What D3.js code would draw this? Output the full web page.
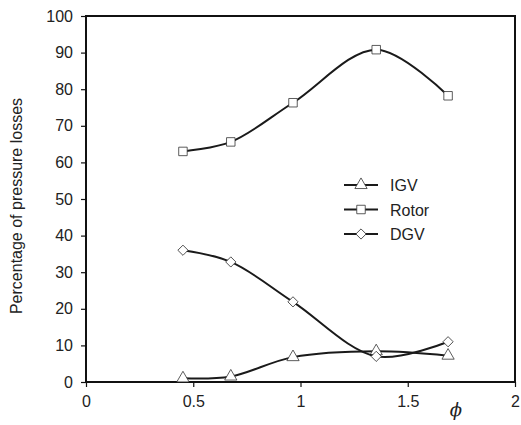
<!DOCTYPE html>
<html>
<head>
<meta charset="utf-8">
<script src="https://cdn.jsdelivr.net/npm/d3@7"></script>
<style>
  body { margin: 0; background: #fff; }
  text { font-family: "Liberation Sans", Arial, sans-serif; fill: #222; }
</style>
</head>
<body>
<div id="container"></div>
<script>
const width = 521;
const height = 425;
const margin = {top: 16, right: 6, bottom: 43, left: 86};

// DATA
const phi = [0.452, 0.675, 0.965, 1.353, 1.688];
const igv = [1.0, 1.5, 6.8, 8.4, 7.2];
const rotor = [63.0, 65.6, 76.3, 90.8, 78.2];
const dgv = [36.0, 32.8, 21.9, 7.0, 11.0];
const seriesNames = ["IGV", "Rotor", "DGV"];
const xTicks = [0, 0.5, 1, 1.5, 2];
const yTicks = [0, 10, 20, 30, 40, 50, 60, 70, 80, 90, 100];

const series = [
    {id: seriesNames[0], values: igv, marker: "triangle"},
    {id: seriesNames[1], values: rotor, marker: "square"},
    {id: seriesNames[2], values: dgv, marker: "diamond"}
];

const svg = d3.select("div#container").append("svg")
    .attr("width", width)
    .attr("height", height);

// SCALES
const xScale = d3.scaleLinear().domain([0, 2])
    .range([margin.left, width - margin.right]);
const yScale = d3.scaleLinear().domain([0, 100])
    .range([height - margin.bottom, margin.top]);

// FRAME
svg.append("rect")
    .attr("x", xScale(0))
    .attr("y", yScale(100))
    .attr("width", xScale(2) - xScale(0))
    .attr("height", yScale(0) - yScale(100))
    .attr("fill", "none")
    .attr("stroke", "#111")
    .attr("stroke-width", 2);

// AXES
const xaxis = d3.axisBottom(xScale)
    .tickValues(xTicks)
    .tickSize(5)
    .tickPadding(9)
    .tickFormat(d3.format("~g"));
const yaxis = d3.axisLeft(yScale)
    .tickValues(yTicks)
    .tickSize(5)
    .tickPadding(8);

const gx = svg.append("g")
    .attr("transform", "translate(0," + yScale(0) + ")")
    .call(xaxis);
const gy = svg.append("g")
    .attr("transform", "translate(" + xScale(0) + ",0)")
    .call(yaxis);

[gx, gy].forEach(function (g) {
    g.select(".domain").remove();
    g.selectAll(".tick line").attr("stroke", "#111").attr("stroke-width", 1.2);
    g.selectAll(".tick text")
        .style("font-size", "16px")
        .style("font-family", "Liberation Sans, Arial, sans-serif")
        .attr("fill", "#222");
});

svg.append("text")
    .attr("transform", "translate(22,206) rotate(-90)")
    .attr("text-anchor", "middle")
    .style("font-size", "16px")
    .text("Percentage of pressure losses");

svg.append("text")
    .attr("x", 456)
    .attr("y", 416)
    .attr("text-anchor", "middle")
    .style("font-size", "18px")
    .style("font-style", "italic")
    .style("font-family", "DejaVu Serif, serif")
    .text("\u03D5");

// LINES
const line = d3.line()
    .x(function (d, i) { return xScale(phi[i]); })
    .y(function (d) { return yScale(d); })
    .curve(d3.curveCatmullRom.alpha(0.5));

const groups = svg.selectAll(".serie")
    .data(series)
    .enter()
    .append("g")
    .attr("class", "serie");

groups.append("path")
    .attr("d", function (d) { return line(d.values); })
    .attr("fill", "none")
    .attr("stroke", "#1a1a1a")
    .attr("stroke-width", 2);

// marker shapes
function markerPath(m) {
    if (m === "triangle") return d3.symbol().type(d3.symbolTriangle).size(65)();
    return d3.symbol().type(d3.symbolSquare).size(m === "diamond" ? 52 : 72)();
}
function markerRotate(m) {
    return m === "diamond" ? " rotate(45)" : "";
}

groups.each(function (d) {
    d3.select(this).selectAll("path.marker")
        .data(d.values)
        .enter()
        .append("path")
        .attr("class", "marker")
        .attr("transform", function (v, i) {
            return "translate(" + xScale(phi[i]) + "," + yScale(v) + ")" + markerRotate(d.marker);
        })
        .attr("d", markerPath(d.marker))
        .attr("fill", "#fff")
        .attr("stroke", "#333")
        .attr("stroke-width", 0.8);
});

// LEGEND
const legend = svg.append("g")
    .selectAll("g")
    .data(series)
    .enter()
    .append("g")
    .attr("transform", function (d, i) {
        return "translate(344," + (185 + i * 24.5) + ")";
    });

legend.append("line")
    .attr("x1", 0).attr("x2", 34)
    .attr("stroke", "#1a1a1a")
    .attr("stroke-width", 2);

legend.append("path")
    .attr("transform", function (d) { return "translate(17,0)" + markerRotate(d.marker); })
    .attr("d", function (d) { return markerPath(d.marker); })
    .attr("fill", "#fff")
    .attr("stroke", "#333")
    .attr("stroke-width", 0.8);

legend.append("text")
    .attr("x", 46)
    .attr("y", 6)
    .style("font-size", "16px")
    .text(function (d) { return d.id; });
</script>
</body>
</html>
